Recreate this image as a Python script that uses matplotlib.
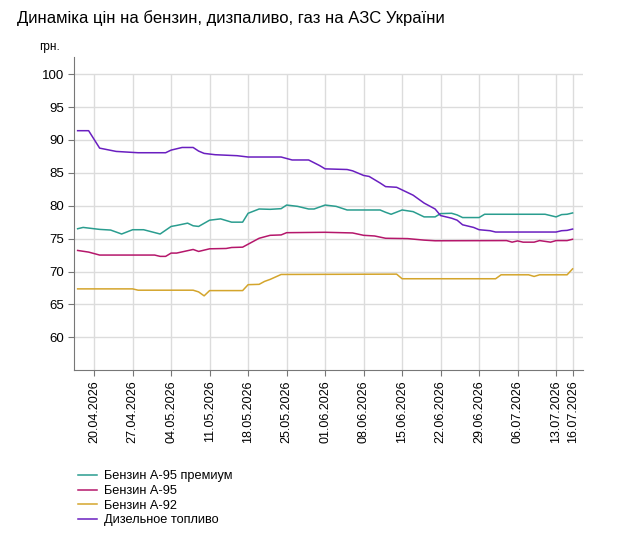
import matplotlib
matplotlib.use("Agg")
import matplotlib.pyplot as plt
import pandas as pd

plt.rcParams['font.family'] = ['Liberation Sans', 'DejaVu Sans']

title = "Динаміка цін на бензин, дизпаливо, газ на АЗС України"
unit = "грн."
year = "2026"

# tick labels on the x axis
tick_dates = ["20.04", "27.04", "04.05", "11.05", "18.05", "25.05", "01.06",
              "08.06", "15.06", "22.06", "29.06", "06.07", "13.07", "16.07"]
y_ticks = [60, 65, 70, 75, 80, 85, 90, 95, 100]

# Бензин А-95 премиум
a95p_dates = ["17.04", "18.04", "21.04", "23.04", "25.04", "27.04", "29.04", "02.05",
              "04.05", "05.05", "07.05", "08.05", "09.05", "11.05", "13.05", "15.05",
              "17.05", "18.05", "20.05", "22.05", "24.05", "25.05", "27.05", "29.05",
              "30.05", "01.06", "03.06", "05.06", "11.06", "12.06", "13.06", "15.06",
              "17.06", "19.06", "21.06", "22.06", "24.06", "25.06", "26.06", "29.06",
              "30.06", "11.07", "13.07", "14.07", "15.07", "16.07"]
a95p_vals = [76.5, 76.7, 76.4, 76.3, 75.7, 76.35, 76.35, 75.7,
             76.85, 77.0, 77.35, 76.95, 76.85, 77.8, 78.0, 77.5,
             77.5, 78.85, 79.5, 79.45, 79.55, 80.1, 79.9, 79.5,
             79.5, 80.1, 79.9, 79.35, 79.35, 79.0, 78.7, 79.35,
             79.1, 78.3, 78.3, 78.8, 78.85, 78.6, 78.2, 78.2,
             78.7, 78.7, 78.3, 78.65, 78.7, 78.9]

# Бензин А-95
a95_dates = ["17.04", "19.04", "21.04", "01.05", "02.05", "03.05", "04.05", "05.05",
             "08.05", "09.05", "11.05", "14.05", "15.05", "17.05", "18.05", "20.05",
             "22.05", "24.05", "25.05", "01.06", "06.06", "08.06", "10.06", "12.06",
             "16.06", "19.06", "21.06", "04.07", "05.07", "06.07", "07.07", "09.07",
             "10.07", "12.07", "13.07", "15.07", "16.07"]
a95_vals = [73.2, 72.95, 72.5, 72.5, 72.3, 72.3, 72.8, 72.8,
            73.35, 73.05, 73.45, 73.5, 73.65, 73.7, 74.15, 75.05,
            75.5, 75.56, 75.9, 75.96, 75.86, 75.5, 75.4, 75.05,
            75.0, 74.77, 74.67, 74.7, 74.46, 74.65, 74.46, 74.46,
            74.7, 74.46, 74.7, 74.7, 74.9]

# Бензин А-92
a92_dates = ["17.04", "27.04", "28.04", "08.05", "09.05", "10.05", "11.05", "17.05",
             "18.05", "20.05", "21.05", "22.05", "24.05", "14.06", "15.06", "02.07",
             "03.07", "08.07", "09.07", "10.07", "15.07", "16.07"]
a92_vals = [67.36, 67.36, 67.16, 67.16, 66.9, 66.3, 67.1, 67.1,
            68.0, 68.05, 68.5, 68.8, 69.55, 69.6, 68.9, 68.9,
            69.5, 69.5, 69.25, 69.5, 69.5, 70.4]

# Дизельное топливо
diesel_dates = ["17.04", "19.04", "21.04", "24.04", "28.04", "03.05", "04.05", "06.05",
                "08.05", "09.05", "10.05", "12.05", "16.05", "18.05", "24.05", "26.05",
                "29.05", "31.05", "01.06", "05.06", "06.06", "08.06", "09.06", "11.06",
                "12.06", "14.06", "15.06", "17.06", "19.06", "21.06", "22.06", "24.06",
                "25.06", "26.06", "28.06", "29.06", "01.07", "02.07", "13.07", "14.07",
                "15.07", "16.07"]
diesel_vals = [91.4, 91.4, 88.75, 88.25, 88.05, 88.05, 88.45, 88.85,
               88.85, 88.3, 87.95, 87.75, 87.6, 87.4, 87.4, 86.95,
               86.95, 86.1, 85.6, 85.5, 85.3, 84.6, 84.45, 83.45,
               82.9, 82.8, 82.4, 81.6, 80.4, 79.5, 78.5, 78.1,
               77.8, 77.1, 76.7, 76.35, 76.2, 76.0, 76.0, 76.2,
               76.25, 76.45]


def to_dates(lst):
    return pd.to_datetime([d + "." + year for d in lst], format="%d.%m.%Y")


series = [
    ("Бензин А-95 премиум", a95p_dates, a95p_vals, "#2a9d8f"),
    ("Бензин А-95", a95_dates, a95_vals, "#b5176b"),
    ("Бензин А-92", a92_dates, a92_vals, "#d4a52c"),
    ("Дизельное топливо", diesel_dates, diesel_vals, "#6a1fc0"),
]

fig = plt.figure(figsize=(6.31, 5.47), dpi=100)
ax = fig.add_axes([0.1178, 0.3232, 0.924 - 0.1178, 0.8958 - 0.3232])

for name, dts, vals, col in series:
    ax.plot(to_dates(dts), vals, color=col, lw=1.1, label=name)

ticks = to_dates(tick_dates)
ax.set_xticks(ticks)
ax.set_xticklabels([d + "." + year for d in tick_dates], rotation=90, fontsize=9)
ax.set_yticks(y_ticks)
ax.set_yticklabels([str(v) for v in y_ticks], fontsize=9.5)

start = pd.Timestamp("2026-04-20")
ax.set_xlim(start - pd.Timedelta(days=3.6), start + pd.Timedelta(days=88.9))
ax.set_ylim(55, 102.6)

# grid
ax.grid(axis="y", color="#dcdcdc", lw=1)
ax.vlines(ticks, 55, 100, color="#dcdcdc", lw=1, zorder=0)
ax.set_axisbelow(True)

for s in ["top", "right"]:
    ax.spines[s].set_visible(False)
for s in ["left", "bottom"]:
    ax.spines[s].set_color("#777777")
ax.tick_params(axis="both", colors="#777777", length=4, labelcolor="black")

fig.text(17 / 631, 1 - 18 / 547, title, fontsize=12, va="center", ha="left")
fig.text(49 / 631, 1 - 47 / 547, unit, fontsize=8.5, va="center", ha="center")

handles, labels = ax.get_legend_handles_labels()
fig.legend(handles, labels, loc="upper left", bbox_to_anchor=(66 / 631, 1 - 459 / 547),
           frameon=False, fontsize=9.2, handlelength=1.55, labelspacing=0.2,
           handletextpad=0.55)

fig.savefig("out.png", dpi=100)
